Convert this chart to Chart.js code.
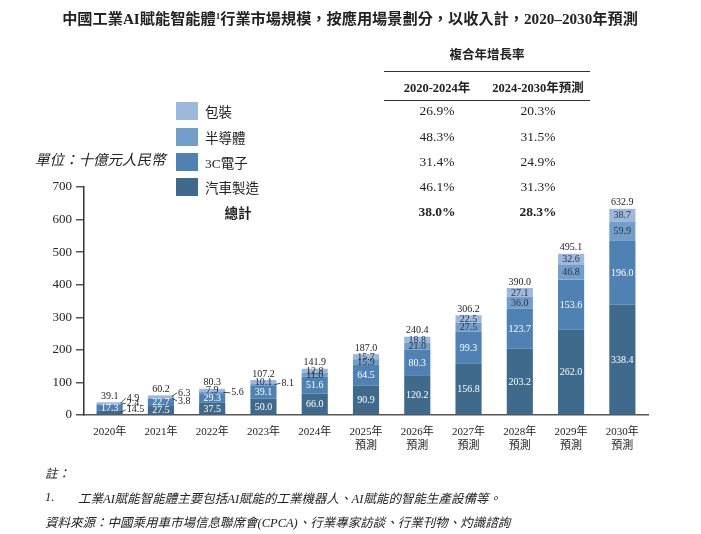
<!DOCTYPE html>
<html>
<head>
<meta charset="utf-8">
<script src="https://cdn.jsdelivr.net/npm/chart.js@4.4.1/dist/chart.umd.min.js"></script>
<style>
  body { margin: 0; width: 701px; height: 534px; position: relative; background: #fff; overflow: hidden;
         font-family: "Liberation Serif", "Noto Sans CJK TC", serif; color: #222; }
  #chart { position: absolute; left: 0; top: 0; }
  .t { position: absolute; white-space: nowrap; transform: translateY(-50%); }
  .c { transform: translate(-50%, -50%); }
  .title { font-size: 15.2px; font-weight: bold; }
  .title sup { font-size: 9px; vertical-align: 5px; }
  .cell { font-size: 13.5px; }
  .hd { font-size: 12.5px; font-weight: bold; }
  .it { font-style: italic; font-size: 12.5px; }
  .unit { font-style: italic; font-size: 14.5px; }
  .sq { position: absolute; width: 22px; height: 18px; }
  .rule { position: absolute; left: 384px; width: 206px; height: 0; border-top: 1.3px solid #333; }
</style>
</head>
<body>
<canvas id="chart" width="701" height="534"></canvas>
<div id="overlay"></div>
<script>
const years = ['2020年', '2021年', '2022年', '2023年', '2024年',
  ['2025年', '預測'], ['2026年', '預測'], ['2027年', '預測'],
  ['2028年', '預測'], ['2029年', '預測'], ['2030年', '預測']];

const seriesNames = ['汽車製造', '3C電子', '半導體', '包裝'];
const autoValues = [14.5, 27.5, 37.5, 50.0, 66.0, 90.9, 120.2, 156.8, 203.2, 262.0, 338.4];
const electronicsValues = [17.3, 22.7, 29.3, 39.1, 51.6, 64.5, 80.3, 99.3, 123.7, 153.6, 196.0];
const semiValues = [2.4, 3.8, 5.6, 8.1, 11.6, 15.9, 21.0, 27.5, 36.0, 46.8, 59.9];
const packValues = [4.9, 6.3, 7.9, 10.1, 12.8, 15.7, 18.8, 22.5, 27.1, 32.6, 38.7];
const totals = [39.1, 60.2, 80.3, 107.2, 141.9, 187.0, 240.4, 306.2, 390.0, 495.1, 632.9];

// CAGR table, same order as seriesNames
const cagr2020to2024 = ['46.1%', '31.4%', '48.3%', '26.9%'];
const cagr2024to2030 = ['31.3%', '24.9%', '31.5%', '20.3%'];
const cagrTotal = ['38.0%', '28.3%'];

const yTicks = [0, 100, 200, 300, 400, 500, 600, 700];

const colors = ['#3f6a8c', '#4f82b3', '#739ec9', '#9db8dc'];
const labelColors = ['#fff', '#fff', '#263646', '#263646'];

// small segments whose label sits outside the bar (year index, series index, offset)
const callouts = [
  { i: 0, d: 0, dx: 4, dy: -2.5 },
  { i: 0, d: 2, dx: 4, dy: -1 },
  { i: 0, d: 3, dx: 4, dy: -5 },
  { i: 1, d: 2, dx: 4, dy: 3 },
  { i: 1, d: 3, dx: 4, dy: -3.5 },
  { i: 2, d: 2, dx: 6, dy: 0.5 },
  { i: 3, d: 2, dx: 5, dy: -1.5 }
];

const FONT = '"Liberation Serif", "Noto Sans CJK TC", serif';

const valueLabels = {
  id: 'valueLabels',
  afterDatasetsDraw(chart) {
    const ctx = chart.ctx;
    ctx.save();
    ctx.font = '10px ' + FONT;
    ctx.textBaseline = 'middle';
    chart.data.datasets.forEach((ds, di) => {
      chart.getDatasetMeta(di).data.forEach((bar, i) => {
        const v = ds.data[i];
        const cy = (bar.y + bar.base) / 2;
        const c = callouts.find(o => o.i === i && o.d === di);
        if (c) {
          const right = bar.x + bar.width / 2;
          const ly = cy + c.dy;
          ctx.strokeStyle = '#222';
          ctx.lineWidth = 0.8;
          ctx.beginPath();
          ctx.moveTo(right - 2, cy);
          ctx.lineTo(right + c.dx - 1, ly);
          ctx.stroke();
          ctx.textAlign = 'left';
          ctx.fillStyle = '#222';
          ctx.fillText(v.toFixed(1), right + c.dx, ly);
        } else {
          ctx.textAlign = 'center';
          ctx.fillStyle = labelColors[di];
          ctx.fillText(v.toFixed(1), bar.x, cy + 0.5);
        }
      });
    });
    // totals above the bars
    const topMeta = chart.getDatasetMeta(chart.data.datasets.length - 1);
    ctx.textAlign = 'center';
    ctx.textBaseline = 'bottom';
    ctx.fillStyle = '#222';
    topMeta.data.forEach((bar, i) => {
      ctx.fillText(totals[i].toFixed(1), bar.x, bar.y - 1);
    });
    ctx.restore();
  }
};

const seriesData = [autoValues, electronicsValues, semiValues, packValues];

new Chart(document.getElementById('chart').getContext('2d'), {
  type: 'bar',
  data: {
    labels: years,
    datasets: seriesData.map((d, k) => ({
      label: seriesNames[k],
      data: d,
      backgroundColor: colors[k],
      borderWidth: 0,
      barPercentage: 0.51,
      categoryPercentage: 1
    }))
  },
  options: {
    responsive: false,
    animation: false,
    layout: { padding: { top: 187, right: 53, bottom: 0, left: 0 } },
    plugins: { legend: { display: false }, tooltip: { enabled: false } },
    scales: {
      x: {
        stacked: true,
        grid: { display: false },
        border: { display: true, color: '#555', width: 1.5 },
        ticks: { color: '#222', font: { family: FONT, size: 11 }, padding: 3, maxRotation: 0, autoSkip: false },
        afterFit(s) { s.height = 119; }
      },
      y: {
        stacked: true,
        min: 0,
        max: 700,
        afterBuildTicks(s) { s.ticks = yTicks.map(v => ({ value: v })); },
        ticks: { color: '#222', font: { family: FONT, size: 13 }, padding: 4 },
        grid: { drawOnChartArea: false, drawTicks: true, tickLength: 8, color: '#555', lineWidth: 1.5 },
        border: { display: true, color: '#333', width: 1.5 },
        afterFit(s) { s.width = 84; }
      }
    }
  },
  plugins: [valueLabels]
});

// title, CAGR table with legend, notes
const overlay = document.getElementById('overlay');
const add = (html, x, y, cls, center) => {
  const el = document.createElement('div');
  el.className = 't ' + (cls || '') + (center ? ' c' : '');
  el.style.left = x + 'px';
  el.style.top = y + 'px';
  el.innerHTML = html;
  overlay.appendChild(el);
  return el;
};

add('中國工業AI賦能智能體<sup>1</sup>行業市場規模，按應用場景劃分，以收入計，2020–2030年預測', 350, 17, 'title', true);
add('複合年增長率', 487, 53, 'hd', true);
add('2020-2024年', 437, 86, 'hd', true);
add('2024-2030年預測', 538, 86, 'hd', true);
[71, 100].forEach(y => {
  const r = document.createElement('div');
  r.className = 'rule';
  r.style.top = y + 'px';
  overlay.appendChild(r);
});

const rowY = [111, 137, 162, 187];
// legend lists the top segment first
[3, 2, 1, 0].forEach((k, row) => {
  const y = rowY[row];
  const sq = document.createElement('div');
  sq.className = 'sq';
  sq.style.left = '176px';
  sq.style.top = (y - 9) + 'px';
  sq.style.background = colors[k];
  overlay.appendChild(sq);
  add(seriesNames[k], 205, y, 'cell');
  add(cagr2020to2024[k], 437, y, 'cell', true);
  add(cagr2024to2030[k], 538, y, 'cell', true);
});
add('總計', 238, 212, 'cell', true).style.fontWeight = 'bold';
add(cagrTotal[0], 437, 212, 'cell', true).style.fontWeight = 'bold';
add(cagrTotal[1], 538, 212, 'cell', true).style.fontWeight = 'bold';

add('單位：十億元人民幣', 35, 158, 'unit');
add('註：', 45, 472, 'it');
add('1.', 45, 497, 'it');
add('工業AI賦能智能體主要包括AI賦能的工業機器人、AI賦能的智能生產設備等。', 78, 497, 'it');
add('資料來源：中國乘用車市場信息聯席會(CPCA)、行業專家訪談、行業刊物、灼識諮詢', 45, 521, 'it');
</script>
</body>
</html>
